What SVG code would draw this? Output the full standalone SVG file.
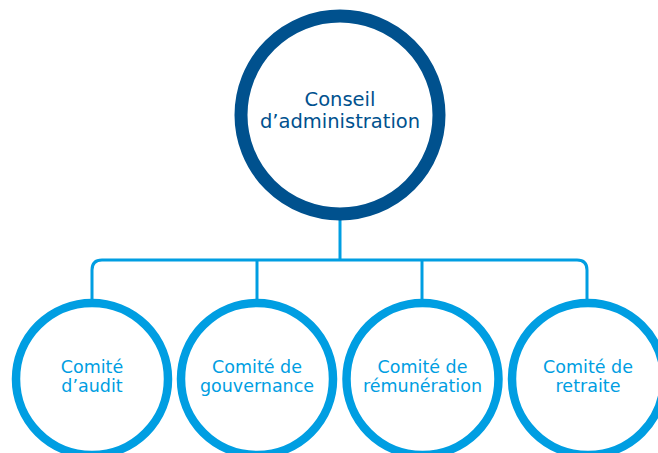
<svg xmlns="http://www.w3.org/2000/svg" width="658" height="453" viewBox="0 0 658 453">
<style>
.conn{fill:none;stroke:#009ee2;stroke-width:3}
.top{fill:#fff;stroke:#00518e;stroke-width:13}
.sub{fill:#fff;stroke:#009ee2;stroke-width:8.5}
.t1{font-family:"DejaVu Sans","Liberation Sans",sans-serif;font-size:19.5px;fill:#00518e;text-anchor:middle}
.t2{font-family:"DejaVu Sans","Liberation Sans",sans-serif;font-size:17.5px;fill:#009ee2;text-anchor:middle}
</style>
<rect width="658" height="453" fill="#fff"/>
<g id="connectors">
<path class="conn" d="M340 215 V260"/>
<path class="conn" d="M92 300 V270 Q92 260 102 260 H577 Q587 260 587 270 V300"/>
<path class="conn" d="M257 260 V300"/>
<path class="conn" d="M422 260 V300"/>
</g>
<g id="conseil">
<circle class="top" cx="340" cy="115" r="99"/>
<text class="t1" x="340" y="106">Conseil</text>
<text class="t1" x="340" y="128">d’administration</text>
</g>
<g id="audit">
<circle class="sub" cx="92" cy="379" r="76"/>
<text class="t2" x="92" y="373">Comité</text>
<text class="t2" x="92" y="392">d’audit</text>
</g>
<g id="gouvernance">
<circle class="sub" cx="257" cy="379" r="76"/>
<text class="t2" x="257" y="373">Comité de</text>
<text class="t2" x="257" y="392">gouvernance</text>
</g>
<g id="remuneration">
<circle class="sub" cx="422.5" cy="379" r="76"/>
<text class="t2" x="422.5" y="373">Comité de</text>
<text class="t2" x="422.5" y="392">rémunération</text>
</g>
<g id="retraite">
<circle class="sub" cx="588" cy="379" r="76"/>
<text class="t2" x="588" y="373">Comité de</text>
<text class="t2" x="588" y="392">retraite</text>
</g>
</svg>
